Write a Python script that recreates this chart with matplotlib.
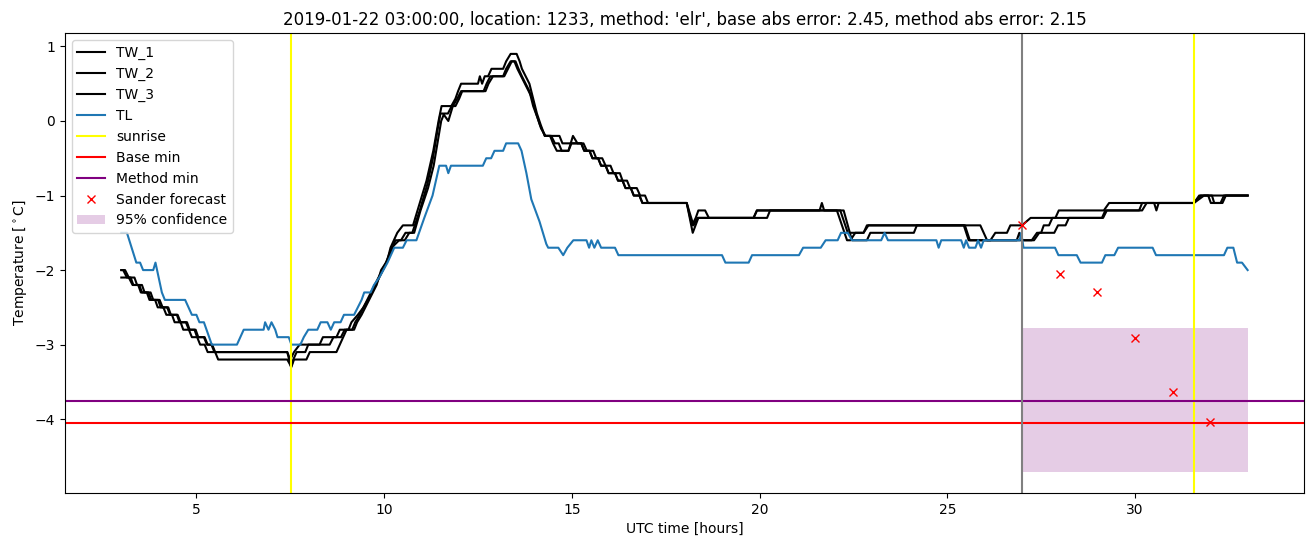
import numpy as np
from matplotlib import pyplot as plt

# (hour, temperature) break points
tw_1 = [(3.0,-2.0),(3.1,-2.0),(3.2,-2.1),(3.35,-2.1),(3.42,-2.2),(3.55,-2.2),(3.62,-2.3),(3.78,-2.3),(3.85,-2.4),(4.02,-2.4),
        (4.1,-2.5),(4.25,-2.5),(4.32,-2.6),(4.5,-2.6),(4.58,-2.7),(4.72,-2.7),(4.8,-2.8),(4.95,-2.8),(5.02,-2.9),(5.2,-2.9),
        (5.28,-3.0),(5.4,-3.0),(5.48,-3.1),(7.42,-3.1),(7.5,-3.2),(7.6,-3.1),(7.75,-3.0),(8.28,-3.0),(8.37,-2.9),(8.73,-2.9),
        (8.82,-2.8),(9.05,-2.8),(9.13,-2.7),(9.3,-2.6),(9.45,-2.5),(9.57,-2.4),(9.67,-2.3),(9.77,-2.2),(9.87,-2.1),(9.97,-2.0),
        (10.07,-1.9),(10.17,-1.7),(10.35,-1.5),(10.5,-1.4),(10.77,-1.4),(10.95,-1.1),(11.13,-0.8),(11.31,-0.4),(11.45,0.0),(11.53,0.2),
        (11.79,0.2),(11.9,0.3),(11.97,0.4),(12.05,0.5),(12.5,0.5),(12.55,0.6),(12.61,0.5),(12.68,0.6),(12.77,0.6),(12.86,0.7),
        (13.17,0.7),(13.25,0.8),(13.37,0.9),(13.53,0.9),(13.61,0.8),(13.67,0.7),(13.77,0.6),(13.87,0.5),(13.97,0.3),(14.07,0.1),
        (14.17,-0.05),(14.28,-0.2),(14.45,-0.2),(14.55,-0.3),(14.65,-0.3),(14.73,-0.4),(14.91,-0.4),(15.03,-0.2),(15.15,-0.3),(15.25,-0.3),
        (15.33,-0.4),(15.47,-0.4),(15.55,-0.5),(15.7,-0.5),(15.78,-0.6),(15.9,-0.6),(15.98,-0.7),(16.15,-0.7),(16.23,-0.8),(16.35,-0.8),
        (16.43,-0.9),(16.57,-0.9),(16.65,-1.0),(16.8,-1.0),(16.88,-1.1),(18.06,-1.1),(18.2,-1.4),(18.3,-1.3),(18.37,-1.2),(18.55,-1.2),
        (18.65,-1.3),(19.84,-1.3),(19.93,-1.2),(22.06,-1.2),(22.33,-1.6),(22.42,-1.6),(22.55,-1.5),(22.77,-1.5),(22.86,-1.4),(25.44,-1.4),
        (25.57,-1.6),(26.15,-1.6),(26.28,-1.5),(26.59,-1.5),(26.68,-1.4),(26.99,-1.4),(27.22,-1.3),(27.88,-1.3),(27.97,-1.2),(29.17,-1.2),
        (29.31,-1.1),(31.57,-1.1),(31.75,-1.0),(33.0,-1.0)]

tw_2 = [(3.0,-2.0),(3.05,-2.0),(3.15,-2.1),(3.25,-2.1),(3.32,-2.2),(3.45,-2.2),(3.52,-2.3),(3.68,-2.3),(3.75,-2.4),(3.9,-2.4),
        (3.97,-2.5),(4.12,-2.5),(4.2,-2.6),(4.35,-2.6),(4.42,-2.7),(4.58,-2.7),(4.65,-2.8),(4.8,-2.8),(4.88,-2.9),(5.02,-2.9),
        (5.1,-3.0),(5.22,-3.0),(5.3,-3.1),(7.42,-3.1),(7.52,-3.3),(7.58,-3.2),(7.67,-3.1),(7.9,-3.1),(7.98,-3.0),(8.55,-3.0),
        (8.65,-2.9),(8.85,-2.9),(8.95,-2.8),(9.15,-2.8),(9.23,-2.7),(9.35,-2.6),(9.45,-2.5),(9.55,-2.4),(9.65,-2.3),(9.75,-2.2),
        (9.85,-2.1),(9.95,-2.0),(10.05,-1.9),(10.15,-1.8),(10.3,-1.6),(10.45,-1.6),(10.57,-1.5),(10.75,-1.5),(10.95,-1.2),(11.15,-0.85),
        (11.3,-0.5),(11.43,-0.1),(11.5,0.1),(11.57,0.1),(11.71,0.0),(11.83,0.2),(11.95,0.3),(12.05,0.4),(12.65,0.4),(12.73,0.5),
        (12.83,0.6),(13.17,0.6),(13.25,0.7),(13.37,0.8),(13.47,0.8),(13.55,0.7),(13.65,0.6),(13.75,0.5),(13.85,0.4),(13.95,0.3),
        (14.05,0.1),(14.15,-0.05),(14.28,-0.2),(14.67,-0.2),(14.75,-0.3),(15.31,-0.3),(15.4,-0.4),(15.57,-0.4),(15.65,-0.5),(15.81,-0.5),
        (15.9,-0.6),(16.03,-0.6),(16.11,-0.7),(16.28,-0.7),(16.35,-0.8),(16.47,-0.8),(16.55,-0.9),(16.73,-0.9),(16.82,-1.0),(16.95,-1.0),
        (17.03,-1.1),(18.06,-1.1),(18.22,-1.5),(18.37,-1.3),(19.84,-1.3),(19.93,-1.2),(21.6,-1.2),(21.66,-1.1),(21.72,-1.2),(22.15,-1.2),
        (22.35,-1.5),(22.77,-1.5),(22.9,-1.4),(25.88,-1.4),(26.06,-1.6),(26.85,-1.6),(26.92,-1.5),(26.99,-1.6),(27.25,-1.6),(27.39,-1.5),
        (27.5,-1.5),(27.57,-1.4),(27.71,-1.4),(27.8,-1.3),(29.12,-1.3),(29.21,-1.2),(30.11,-1.2),(30.19,-1.1),(30.51,-1.1),(30.57,-1.2),
        (30.63,-1.1),(31.57,-1.1),(31.71,-1.0),(31.95,-1.0),(32.02,-1.1),(32.28,-1.1),(32.37,-1.0),(33.0,-1.0)]

tw_3 = [(3.0,-2.1),(3.2,-2.1),(3.3,-2.2),(3.48,-2.2),(3.55,-2.3),(3.72,-2.3),(3.8,-2.4),(3.98,-2.4),(4.05,-2.5),(4.22,-2.5),
        (4.3,-2.6),(4.48,-2.6),(4.55,-2.7),(4.75,-2.7),(4.82,-2.8),(4.98,-2.8),(5.05,-2.9),(5.22,-2.9),(5.3,-3.0),(5.42,-3.0),
        (5.5,-3.1),(5.58,-3.2),(7.42,-3.2),(7.53,-3.3),(7.6,-3.2),(7.93,-3.2),(8.02,-3.1),(8.73,-3.1),(8.82,-3.0),(8.91,-2.9),
        (9.0,-2.8),(9.2,-2.8),(9.28,-2.7),(9.4,-2.6),(9.5,-2.5),(9.6,-2.4),(9.7,-2.3),(9.8,-2.2),(9.92,-2.0),(10.05,-1.9),
        (10.2,-1.7),(10.4,-1.6),(10.55,-1.6),(10.67,-1.5),(10.8,-1.5),(10.97,-1.2),(11.17,-0.9),(11.32,-0.6),(11.42,-0.3),(11.52,0.0),
        (11.6,0.1),(11.7,0.1),(11.8,0.2),(11.9,0.2),(12.0,0.3),(12.08,0.4),(12.7,0.4),(12.78,0.5),(12.9,0.6),(13.2,0.6),
        (13.3,0.7),(13.4,0.8),(13.5,0.8),(13.58,0.7),(13.67,0.6),(13.77,0.5),(13.87,0.4),(13.97,0.2),(14.08,0.05),(14.18,-0.1),
        (14.3,-0.2),(14.42,-0.2),(14.5,-0.3),(14.6,-0.4),(14.91,-0.4),(14.99,-0.3),(15.25,-0.3),(15.33,-0.4),(15.47,-0.4),(15.55,-0.5),
        (15.7,-0.5),(15.78,-0.6),(15.9,-0.6),(15.98,-0.7),(16.15,-0.7),(16.23,-0.8),(16.35,-0.8),(16.43,-0.9),(16.57,-0.9),(16.65,-1.0),
        (16.8,-1.0),(16.88,-1.1),(18.06,-1.1),(18.24,-1.4),(18.35,-1.3),(20.2,-1.3),(20.28,-1.2),(22.24,-1.2),(22.46,-1.6),(22.86,-1.6),
        (22.95,-1.5),(24.11,-1.5),(24.19,-1.4),(25.47,-1.4),(25.6,-1.6),(27.31,-1.6),(27.45,-1.5),(27.85,-1.5),(27.95,-1.4),(28.15,-1.4),
        (28.24,-1.3),(29.15,-1.3),(29.25,-1.2),(30.19,-1.2),(30.31,-1.1),(31.57,-1.1),(31.84,-1.0),(32.05,-1.0),(32.11,-1.1),(32.33,-1.1),
        (32.42,-1.0),(33.0,-1.0)]

tl = [(3.0,-1.5),(3.15,-1.5),(3.4,-1.9),(3.5,-1.9),(3.58,-2.0),(3.85,-2.0),(3.91,-1.9),(4.08,-2.3),(4.16,-2.4),(4.70,-2.4),
      (4.79,-2.5),(4.88,-2.6),(5.0,-2.6),(5.08,-2.7),(5.2,-2.7),(5.41,-3.0),(6.08,-3.0),(6.26,-2.8),(6.79,-2.8),(6.83,-2.7),
      (6.92,-2.8),(7.0,-2.7),(7.1,-2.8),(7.16,-2.9),(7.46,-2.9),(7.53,-3.0),(7.77,-3.0),(7.86,-2.9),(7.98,-2.8),(8.22,-2.8),
      (8.31,-2.7),(8.49,-2.7),(8.58,-2.8),(8.67,-2.7),(8.84,-2.7),(8.93,-2.6),(9.2,-2.6),(9.3,-2.5),(9.4,-2.4),(9.47,-2.3),
      (9.64,-2.3),(9.73,-2.2),(9.87,-2.1),(10.09,-1.9),(10.27,-1.7),(10.5,-1.7),(10.6,-1.6),(10.86,-1.6),(11.07,-1.3),(11.29,-1.0),
      (11.47,-0.6),(11.65,-0.6),(11.71,-0.7),(11.78,-0.6),(12.63,-0.6),(12.72,-0.5),(12.85,-0.5),(12.94,-0.4),(13.17,-0.4),(13.25,-0.3),
      (13.57,-0.3),(13.66,-0.4),(13.79,-0.7),(13.92,-1.05),(14.14,-1.35),(14.32,-1.65),(14.37,-1.7),(14.64,-1.7),(14.77,-1.8),(14.88,-1.7),
      (15.04,-1.6),(15.39,-1.6),(15.46,-1.7),(15.52,-1.6),(15.6,-1.7),(15.69,-1.6),(15.78,-1.7),(16.15,-1.7),(16.24,-1.8),(19.0,-1.8),
      (19.09,-1.9),(19.71,-1.9),(19.8,-1.8),(21.05,-1.8),(21.16,-1.7),(21.63,-1.7),(21.76,-1.6),(22.08,-1.6),(22.17,-1.5),(22.35,-1.5),
      (22.46,-1.6),(23.24,-1.6),(23.33,-1.5),(23.42,-1.6),(24.71,-1.6),(24.77,-1.7),(24.84,-1.6),(25.37,-1.6),(25.44,-1.7),(25.5,-1.6),
      (25.58,-1.7),(25.75,-1.7),(25.82,-1.6),(25.9,-1.7),(25.97,-1.6),(26.93,-1.6),(26.97,-1.5),(27.03,-1.7),(27.87,-1.7),(27.96,-1.8),
      (28.45,-1.8),(28.55,-1.9),(29.12,-1.9),(29.21,-1.8),(29.45,-1.8),(29.55,-1.7),(30.47,-1.7),(30.56,-1.8),(32.37,-1.8),(32.46,-1.7),
      (32.62,-1.7),(32.72,-1.9),(32.85,-1.9),(33.0,-2.0)]

sunrise = [7.53, 31.56]
forecast_time = 27.0
base_min = -4.05
method_min = -3.75
conf_low, conf_high = -4.71, -2.78
sander_hours = [27, 28, 29, 30, 31, 32]
sander_temps = [-1.39, -2.05, -2.30, -2.91, -3.63, -4.04]

fig, ax = plt.subplots(figsize=(13.13, 5.47), dpi=100)
fig.subplots_adjust(left=0.0495, right=0.9931, top=0.9397, bottom=0.0987)

for name, series in [("TW_1", tw_1), ("TW_2", tw_2), ("TW_3", tw_3)]:
    t, v = zip(*series)
    ax.plot(t, v, color="black", label=name)
t, v = zip(*tl)
ax.plot(t, v, color="tab:blue", label="TL")

ax.axvline(sunrise[0], color="yellow", label="sunrise")
ax.axvline(sunrise[1], color="yellow")
ax.axhline(base_min, color="red", label="Base min")
ax.axhline(method_min, color="purple", label="Method min")
ax.axvline(forecast_time, color="gray")
ax.plot(sander_hours, sander_temps, "rx", label="Sander forecast")
ax.fill_between([forecast_time, 33], conf_low, conf_high, color="purple", alpha=0.2,
                linewidth=0, label="95% confidence")

ax.set_xlabel("UTC time [hours]")
ax.set_ylabel(r"Temperature [$^\circ$C]")
ax.set_title("2019-01-22 03:00:00, location: 1233, method: 'elr', base abs error: 2.45, method abs error: 2.15")
ax.legend(loc="upper left")

fig.savefig("out.png")
